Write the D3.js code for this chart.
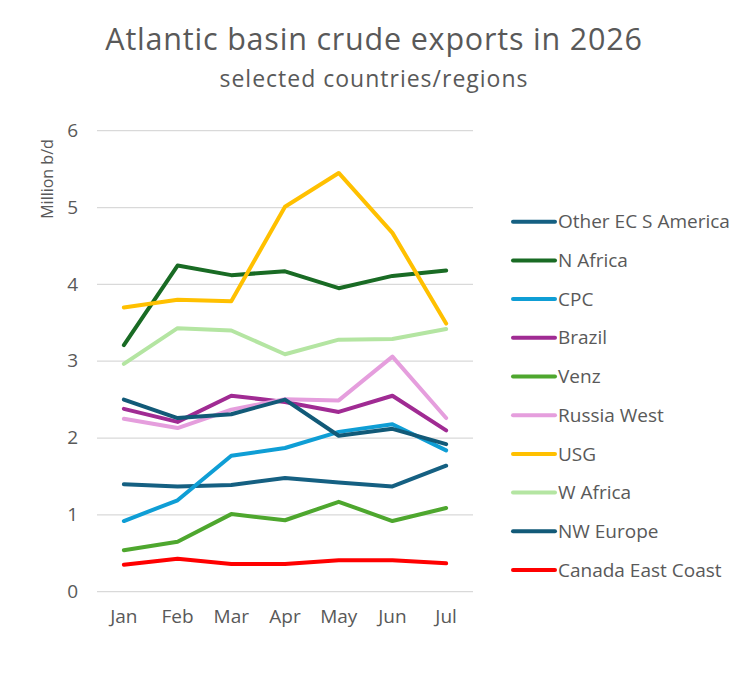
<!DOCTYPE html>
<html><head><meta charset="utf-8">
<script src="https://cdn.jsdelivr.net/npm/d3@7"></script>
<style>body{margin:0;background:#fff;} text{font-family:"Open Sans",sans-serif;fill:#595959;}</style>
</head><body>
<svg id="c" width="750" height="694"></svg>
<script>
const months = ["Jan","Feb","Mar","Apr","May","Jun","Jul"];
const yTicks = [0,1,2,3,4,5,6];
const seriesNames = ["Other EC S America","N Africa","CPC","Brazil","Venz","Russia West","USG","W Africa","NW Europe","Canada East Coast"];
const seriesColors = ["#156082","#196B24","#0F9ED5","#A02B93","#4EA72E","#E59EDD","#FFC000","#B4E5A2","#125A78","#FF0000"];
const otherECSAmerica = [1.40,1.37,1.39,1.48,1.42,1.37,1.64];
const nAfrica = [3.21,4.245,4.12,4.17,3.95,4.11,4.18];
const cpc = [0.92,1.19,1.77,1.87,2.08,2.18,1.84];
const brazil = [2.38,2.21,2.55,2.47,2.34,2.55,2.10];
const venz = [0.54,0.65,1.01,0.93,1.17,0.92,1.09];
const russiaWest = [2.25,2.13,2.37,2.505,2.49,3.06,2.26];
const usg = [3.70,3.80,3.78,5.01,5.45,4.67,3.49];
const wAfrica = [2.965,3.43,3.40,3.09,3.28,3.29,3.42];
const nwEurope = [2.50,2.26,2.31,2.50,2.03,2.12,1.92];
const canadaEastCoast = [0.35,0.43,0.36,0.36,0.41,0.41,0.37];
const seriesValues = [otherECSAmerica,nAfrica,cpc,brazil,venz,russiaWest,usg,wAfrica,nwEurope,canadaEastCoast];

const svg = d3.select("#c");
const x = d3.scaleBand().domain(months).range([97,473]);
const y = d3.scaleLinear().domain([0,6]).range([591.7,130.7]);

// gridlines
svg.append("g").selectAll("line").data(yTicks).join("line")
  .attr("x1",97).attr("x2",473)
  .attr("y1",d=>y(d)).attr("y2",d=>y(d))
  .attr("stroke","#d9d9d9").attr("stroke-width",1.3);

// y axis
const yAxis = svg.append("g").attr("transform","translate(78,0)")
  .call(d3.axisLeft(y).tickValues(yTicks).tickSize(0).tickPadding(0).tickFormat(d3.format("d")));
yAxis.select(".domain").remove();
yAxis.selectAll("text").style("font-size","19px").style("fill","#595959").style("font-family","'Open Sans',sans-serif").attr("dy","0.3em");

// x axis
const xAxis = svg.append("g").attr("transform","translate(0,607)")
  .call(d3.axisBottom(x).tickSize(0).tickPadding(0));
xAxis.select(".domain").remove();
xAxis.selectAll("text").style("font-size","19px").style("fill","#595959").style("font-family","'Open Sans',sans-serif").attr("dy","0.85em");

// lines
const line = d3.line().x((d,i)=>x(months[i])+x.bandwidth()/2).y(d=>y(d));
seriesValues.forEach((vals,k)=>{
  svg.append("path").datum(vals).attr("d",line)
    .attr("fill","none").attr("stroke",seriesColors[k]).attr("stroke-width",4)
    .attr("stroke-linejoin","round").attr("stroke-linecap","round");
});

// legend
const lg = svg.append("g");
seriesNames.forEach((n,k)=>{
  const yy = 221.7 + k*38.7;
  lg.append("line").attr("x1",513).attr("x2",555).attr("y1",yy).attr("y2",yy)
    .attr("stroke",seriesColors[k]).attr("stroke-width",4).attr("stroke-linecap","round");
  lg.append("text").attr("x",558).attr("y",yy).attr("dy","0.35em").style("font-size","19px").text(n);
});

// titles
svg.append("text").attr("x",374).attr("y",50).attr("text-anchor","middle").style("font-size","30.5px").style("letter-spacing","0.8px").text("Atlantic basin crude exports in 2026");
svg.append("text").attr("x",374).attr("y",87).attr("text-anchor","middle").style("font-size","23px").style("letter-spacing","1px").text("selected countries/regions");
svg.append("text").attr("transform","translate(53,179) rotate(-90)").attr("text-anchor","middle").style("font-size","16px").text("Million b/d");
</script>
</body></html>
